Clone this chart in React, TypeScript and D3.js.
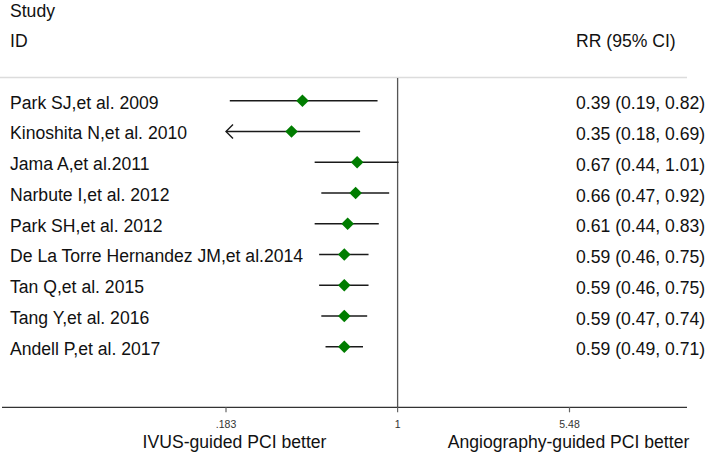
import React from "react";
import * as d3 from "d3";

const studies = [
  "Park SJ,et al. 2009",
  "Kinoshita N,et al. 2010",
  "Jama A,et al.2011",
  "Narbute I,et al. 2012",
  "Park SH,et al. 2012",
  "De La Torre Hernandez JM,et al.2014",
  "Tan Q,et al. 2015",
  "Tang Y,et al. 2016",
  "Andell P,et al. 2017",
];
const rr = [0.39, 0.35, 0.67, 0.66, 0.61, 0.59, 0.59, 0.59, 0.59];
const lower = [0.19, 0.18, 0.44, 0.47, 0.44, 0.46, 0.46, 0.47, 0.49];
const upper = [0.82, 0.69, 1.01, 0.92, 0.83, 0.75, 0.75, 0.74, 0.71];
const ticks = [0.183, 1, 5.48];
const tickLabels = [".183", "1", "5.48"];

const FONT = "'Liberation Sans', Arial, Helvetica, sans-serif";
const FS = 17.6;

export default function App() {
  const W = 705;
  const H = 453;
  const x = d3.scaleLog().domain([0.183, 5.48]).range([226, 569.5]);
  const y = d3.scalePoint<string>().domain(studies).range([100.8, 346.8]);
  const axisY = 407.3;
  const [dMin, dMax] = x.domain();
  const fmt = d3.format(".2f");

  return (
    <svg
      width={W}
      height={H}
      style={{ position: "absolute", left: 0, top: 0, background: "#fff" }}
      fontFamily={FONT}
    >
      {/* headers */}
      <text x={10} y={16.7} fontSize={FS} fill="#111">Study</text>
      <text x={10} y={47.3} fontSize={FS} fill="#111">ID</text>
      <text x={576} y={47.3} fontSize={FS} fill="#111">RR (95% CI)</text>
      <line x1={0} x2={687} y1={77.5} y2={77.5} stroke="#dcdcdc" strokeWidth={1.5} />

      {/* null line */}
      <line x1={x(1)} x2={x(1)} y1={78} y2={axisY} stroke="#555" strokeWidth={1.3} />

      {studies.map((s, i) => {
        const yy = y(s)!;
        const lo = Math.max(lower[i], dMin);
        const hi = Math.min(upper[i], dMax);
        const cx = x(rr[i]);
        const d = 6.3;
        return (
          <g key={s}>
            <text x={10} y={yy + 7.7} fontSize={FS} fill="#111">{s}</text>
            <line x1={x(lo)} x2={x(hi)} y1={yy} y2={yy} stroke="#1a1a1a" strokeWidth={1.4} />
            {lower[i] < dMin && (
              <path
                d={`M${x(lo) + 7},${yy - 7} L${x(lo)},${yy} L${x(lo) + 7},${yy + 7}`}
                fill="none"
                stroke="#1a1a1a"
                strokeWidth={1.4}
              />
            )}
            <path
              d={`M${cx},${yy - d} L${cx + d},${yy} L${cx},${yy + d} L${cx - d},${yy} Z`}
              fill="#007d00"
            />
            <text x={576} y={yy + 8.5} fontSize={FS} fill="#111">
              {`${fmt(rr[i])} (${fmt(lower[i])}, ${fmt(upper[i])})`}
            </text>
          </g>
        );
      })}

      {/* axis */}
      <line x1={2} x2={687} y1={axisY} y2={axisY} stroke="#333" strokeWidth={1.3} />
      {ticks.map((t, i) => (
        <g key={t}>
          <line x1={x(t)} x2={x(t)} y1={axisY} y2={axisY + 5} stroke="#666" strokeWidth={1.2} />
          <text x={x(t)} y={427.5} fontSize={10.5} textAnchor="middle" fill="#333">
            {tickLabels[i]}
          </text>
        </g>
      ))}
      <text x={234.5} y={448.3} fontSize={FS} textAnchor="middle" fill="#111">
        IVUS-guided PCI better
      </text>
      <text x={568.5} y={448.3} fontSize={FS} textAnchor="middle" fill="#111">
        Angiography-guided PCI better
      </text>
    </svg>
  );
}
